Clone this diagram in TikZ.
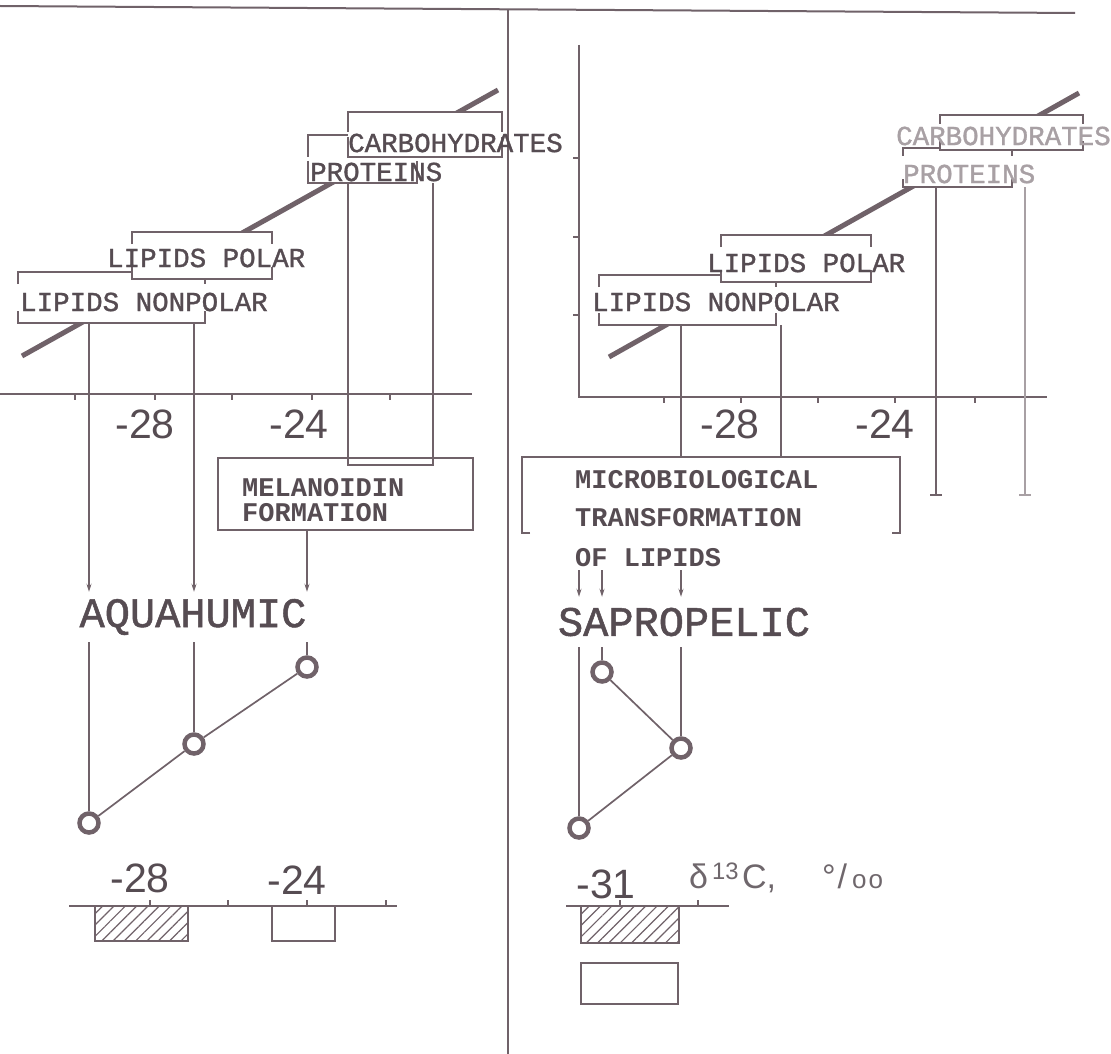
\documentclass[tikz,border=0pt]{standalone}
\usepackage{fontspec}
\setmainfont{Liberation Serif}
\setsansfont{Liberation Sans}
\setmonofont{Liberation Mono}
\newfontfamily\typefont[FakeBold=1.2]{Liberation Mono}
\usetikzlibrary{arrows.meta, patterns.meta}
\definecolor{ink}{RGB}{112,98,105}
\definecolor{inktext}{RGB}{86,76,82}
\definecolor{faded}{RGB}{168,160,164}
% corner brackets round a label box
\newcommand{\cornerbox}[2][12pt]{%
  \draw[boxline] ([yshift=-#1]#2.north west) -- (#2.north west)
    -- (#2.north east) -- ([yshift=-#1]#2.north east);
  \draw[boxline] ([yshift=#1]#2.south west) -- (#2.south west)
    -- (#2.south east) -- ([yshift=#1]#2.south east);}

\begin{document}
\begin{tikzpicture}[
  x=1pt, y=-1pt, >=Stealth,
  frame/.style={draw=ink, line width=2pt},
  tick/.style={draw=ink, line width=1.3pt},
  boxline/.style={draw=ink, line width=2pt},
  cbox/.style={fill=white, inner sep=0pt, outer sep=0pt},
  lbox/.style={draw=ink, fill=white, line width=2pt, inner sep=0pt},
  ghost/.style={inner sep=0pt, outer sep=0pt},
  link/.style={draw=ink, line width=1.7pt},
  drop/.style={draw=ink, line width=1.7pt, -{Stealth[length=8pt,width=5pt]}},
  trend/.style={draw=ink, line width=5pt},
  dot/.style={circle, draw=ink, fill=white, line width=4.5pt,
              minimum size=19pt, inner sep=0pt},
  lab/.style={font=\typefont\fontsize{27.5}{27.5}\selectfont, text=inktext,
              inner sep=0pt, anchor=west},
  mlab/.style={font=\ttfamily\bfseries\fontsize{27}{25}\selectfont, text=inktext,
               inner sep=0pt, anchor=west},
  big/.style={font=\typefont\fontsize{42}{42}\selectfont, text=inktext,
              inner sep=0pt, minimum height=50pt},
  num/.style={font=\sffamily\fontsize{41}{41}\selectfont, text=inktext, inner sep=0pt},
  unitlab/.style={font=\sffamily\fontsize{34}{34}\selectfont, text=inktext!85,
                  inner sep=0pt, anchor=west},
  hatch/.style={draw=ink, line width=1.6pt,
                pattern={Lines[angle=45, distance=8pt, line width=1.2pt]},
                pattern color=ink}
]
\fill[white] (0,0) rectangle (1111,1054);
\useasboundingbox (0,0) rectangle (1111,1054);

%% Frame
\draw[frame] (0,6) -- (1075,13);
\draw[frame] (508,10) -- (508,1054);

%% Axes
\draw[frame] (0,394) -- (472,394);
\foreach \x in {75,155,232,312,390}{\draw[tick] (\x,394) -- ++(0,6);}
\draw[frame] (579,45) -- (579,397) -- (1047,397);
\foreach \x in {664,741,818,895,975}{\draw[tick] (\x,397) -- ++(0,6);}
\foreach \y in {158,237,315}{\draw[tick] (579,\y) -- ++(-6,0);}
\node[num] (axL1) at (145,424) {-28};
\node[num] (axL2) at (299,424) {-24};
\node[num] (axR1) at (730,424) {-28};
\node[num] (axR2) at (885,424) {-24};

%% Trend lines
\draw[trend] (22,356) -- (498,90);
\draw[trend] (609,357) -- (1079,93);

%% Fraction boxes (left)
\node[cbox, minimum width=187pt, minimum height=51pt] (nonpolL) at (111.5,297.5) {};
\cornerbox{nonpolL}
\node[cbox, minimum width=140pt, minimum height=47pt] (polarL) at (202,255.5) {};
\cornerbox{polarL}
\node[cbox, minimum width=109pt, minimum height=48pt] (protL) at (362.5,159) {};
\cornerbox[22pt]{protL}
\node[cbox, minimum width=154pt, minimum height=45pt] (carbL) at (425,134.5) {};
\cornerbox[20pt]{carbL}
\node[lab] (txtNonpolL) at (20,302) {LIPIDS NONPOLAR};
\node[lab] (txtPolarL) at (107,258) {LIPIDS POLAR};
\node[lab] (txtProtL) at (310,172) {PROTEINS};
\node[lab] (txtCarbL) at (348,143) {CARBOHYDRATES};

%% Fraction boxes (right)
\node[cbox, minimum width=177pt, minimum height=50pt] (nonpolR) at (687.5,300) {};
\cornerbox{nonpolR}
\node[cbox, minimum width=150pt, minimum height=47pt] (polarR) at (796,258.5) {};
\cornerbox{polarR}
\node[cbox, minimum width=109pt, minimum height=39pt] (protR) at (957.5,167.5) {};
\cornerbox[8pt]{protR}
\node[cbox, minimum width=143pt, minimum height=35pt] (carbR) at (1011.5,132.5) {};
\cornerbox[9pt]{carbR}
\node[lab] (txtNonpolR) at (592,302) {LIPIDS NONPOLAR};
\node[lab] (txtPolarR) at (707,263) {LIPIDS POLAR};
\node[lab, text=faded] (txtProtR) at (903,174) {PROTEINS};
\node[lab, text=faded] (txtCarbR) at (896,136) {CARBOHYDRATES};

%% Melanoidin formation
\node[lbox, minimum width=255pt, minimum height=72pt] (melan) at (345.5,494) {};
\node[mlab, anchor=north west, align=left] (txtMelan) at (242,478) {MELANOIDIN\\FORMATION};
\coordinate (uL) at (348,465);
\coordinate (uR) at (433,465);
\draw[link] (uL |- protL.south) -- (uL) -- (uR) -- (uR |- protL.south);

%% Aquahumic
\node[big] (aquah) at (193,617) {AQUAHUMIC};
\node[dot] (aq1) at (89,823) {};
\node[dot] (aq2) at (194,744) {};
\node[dot] (aq3) at (307,667) {};
\draw[drop] (aq1 |- nonpolL.south) -- (aq1 |- aquah.north);
\draw[drop] (aq2 |- nonpolL.south) -- (aq2 |- aquah.north);
\draw[drop] (aq3 |- melan.south) -- (aq3 |- aquah.north);
\foreach \c in {aq1,aq2,aq3}{\draw[link] (\c |- aquah.south) -- (\c);}
\draw[link] (aq1) -- (aq2) -- (aq3);

%% Microbiological transformation
\node[ghost, minimum width=378pt, minimum height=76pt] (micro) at (711,495) {};
\draw[link] ([xshift=8pt]micro.south west) -- (micro.south west) -- (micro.north west)
  -- (micro.north east) -- (micro.south east) -- ([xshift=-8pt]micro.south east);
\node[mlab] (txtMicro1) at (575,480) {MICROBIOLOGICAL};
\node[mlab] (txtMicro2) at (575,518) {TRANSFORMATION};
\node[mlab] (txtMicro3) at (575,558) {OF LIPIDS};
\coordinate (mB) at (781,457);
\coordinate (footA) at (936,495);
\coordinate (footB) at (1025,495);

%% Sapropelic
\node[big] (sapro) at (684,622) {SAPROPELIC};
\node[dot] (sp1) at (579,828) {};
\node[dot] (sp2) at (602,672) {};
\node[dot] (sp3) at (681,748) {};
\draw[link] (sp3 |- nonpolR.south) -- (sp3 |- micro.north);
\draw[link] (mB |- nonpolR.south) -- (mB);
\draw[link] (footA |- protR.south) -- (footA);
\draw[link] ([xshift=-6pt]footA) -- ([xshift=6pt]footA);
\draw[link, draw=faded] (footB |- protR.south) -- (footB);
\draw[link, draw=faded] ([xshift=-6pt]footB) -- ([xshift=6pt]footB);
\coordinate (arrTop) at (0,570);
\foreach \c in {sp1,sp2,sp3}{\draw[drop] (\c |- arrTop) -- (\c |- sapro.north);}
\foreach \c in {sp1,sp2,sp3}{\draw[link] (\c |- sapro.south) -- (\c);}
\draw[link] (sp2) -- (sp3) -- (sp1);

%% Legend scales
\draw[link] (69,906) -- (397,906);
\foreach \x in {150,228,307,386}{\draw[tick] (\x,906) -- ++(0,-6);}
\node[num] (scL1) at (140,878) {-28};
\node[num] (scL2) at (297,880) {-24};
\draw[hatch] (95,906) rectangle (188,941);
\draw[link] (272,906) rectangle (335,941);
\draw[link] (566,906) -- (729,906);
\foreach \x in {620,698}{\draw[tick] (\x,906) -- ++(0,-6);}
\node[num] (scR1) at (606,884) {-31};
\node[unitlab] (unit) at (689,878)
  {δ\hspace{4pt}\textsuperscript{13}\hspace{3pt}C,\hspace{46pt}°\hspace{2pt}/\hspace{5pt}{\fontsize{26}{26}\selectfont o\hspace{2pt}o}};
\draw[hatch] (581,906) rectangle (679,943);
\draw[link] (581,963) rectangle (678,1004);
\end{tikzpicture}
\end{document}
